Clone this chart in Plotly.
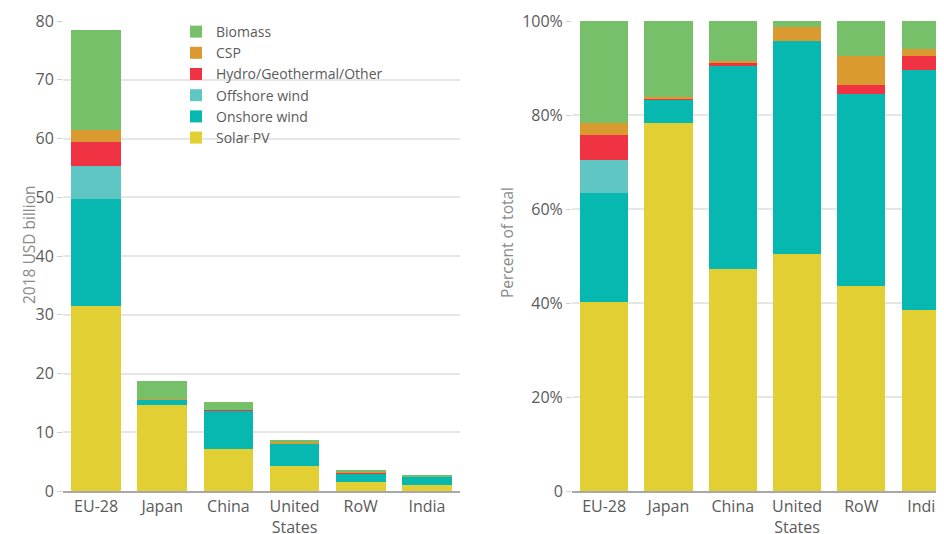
import plotly.graph_objects as go

regions = ['EU-28', 'Japan', 'China', 'United<br>States', 'RoW', 'India']

# 2018 USD billion
solar_pv = [31.5, 14.7, 7.15, 4.3, 1.57, 1.04]
onshore_wind = [18.2, 0.9, 6.55, 3.85, 1.47, 1.38]
offshore_wind = [5.6, 0, 0, 0, 0, 0]
hydro_other = [4.1, 0.05, 0.1, 0, 0.07, 0.08]
csp = [2.1, 0.05, 0.05, 0.27, 0.22, 0.04]
biomass = [17.0, 3.05, 1.3, 0.1, 0.27, 0.16]

series = [
    ('Solar PV', solar_pv, '#e2cf33'),
    ('Onshore wind', onshore_wind, '#06b8b0'),
    ('Offshore wind', offshore_wind, '#5fc6c3'),
    ('Hydro/Geothermal/Other', hydro_other, '#ef3342'),
    ('CSP', csp, '#db9a2f'),
    ('Biomass', biomass, '#75c069'),
]

totals = [sum(v) for v in zip(*[s[1] for s in series])]

# page has an 8px body margin, so the figure is 8px smaller and everything shifted
OFF = 8
W, H = 944 - OFF, 534 - OFF
TOP, BOTTOM = 21 - OFF, 491 - OFF
font = 'Open Sans'
tick_font = dict(family=font, size=16, color='#5a5a5a')
title_font = dict(family=font, size=15.5, color='#8a8a8a')


def px_x(x):
    return (x - OFF) / W


def px_y(y):
    # page row -> paper fraction
    return (BOTTOM - (y - OFF)) / (BOTTOM - TOP)


fig = go.Figure()
for name, vals, color in series:
    fig.add_trace(go.Bar(x=regions, y=vals, name=name, marker=dict(color=color, line=dict(width=0)),
                         xaxis='x', yaxis='y'))
for name, vals, color in series:
    pct = [100 * v / t for v, t in zip(vals, totals)]
    fig.add_trace(go.Bar(x=regions, y=pct, name=name, marker=dict(color=color, line=dict(width=0)),
                         xaxis='x2', yaxis='y2', showlegend=False))

axis_common = dict(showgrid=False, showline=True, linecolor='#a8a8a8', linewidth=2,
                   ticks='', tickfont=tick_font, fixedrange=True, automargin=False)
yaxis_common = dict(showgrid=True, gridcolor='#e6e6e6', gridwidth=1.5, zeroline=False,
                    ticks='outside', ticklen=5, tickcolor='#d0d0d0', tickfont=tick_font,
                    automargin=False)

fig.update_layout(
    width=W, height=H,
    barmode='stack', bargap=0.25,
    plot_bgcolor='white', paper_bgcolor='white',
    margin=dict(l=0, r=0, t=TOP, b=H - BOTTOM, autoexpand=False),
    font=dict(family=font, color='#5a5a5a'),
    xaxis=dict(domain=[px_x(63), px_x(460)], range=[-0.5, 5.5], **axis_common),
    yaxis=dict(range=[0, 80], tickvals=[0, 10, 20, 30, 40, 50, 60, 70, 80], **yaxis_common),
    xaxis2=dict(domain=[px_x(572), 1.0], range=[-0.5, 5.285], anchor='y2', **axis_common),
    yaxis2=dict(range=[0, 100], anchor='x2', tickvals=[0, 20, 40, 60, 80, 100],
                ticktext=['0', '20%', '40%', '60%', '80%', '100%'], **yaxis_common),
    legend=dict(x=px_x(176), y=px_y(16), xanchor='left', yanchor='top',
                traceorder='reversed', bgcolor='rgba(0,0,0,0)',
                font=dict(family=font, size=14, color='#5a5a5a'), tracegroupgap=0,
                itemwidth=30),
    annotations=[
        dict(text='2018 USD billion', x=px_x(16), y=px_y(245), xref='paper', yref='paper',
             textangle=-90, showarrow=False, font=title_font),
        dict(text='Percent of total', x=px_x(507), y=px_y(243), xref='paper', yref='paper',
             textangle=-90, showarrow=False, font=title_font),
    ],
)

fig.write_html('out.html')
